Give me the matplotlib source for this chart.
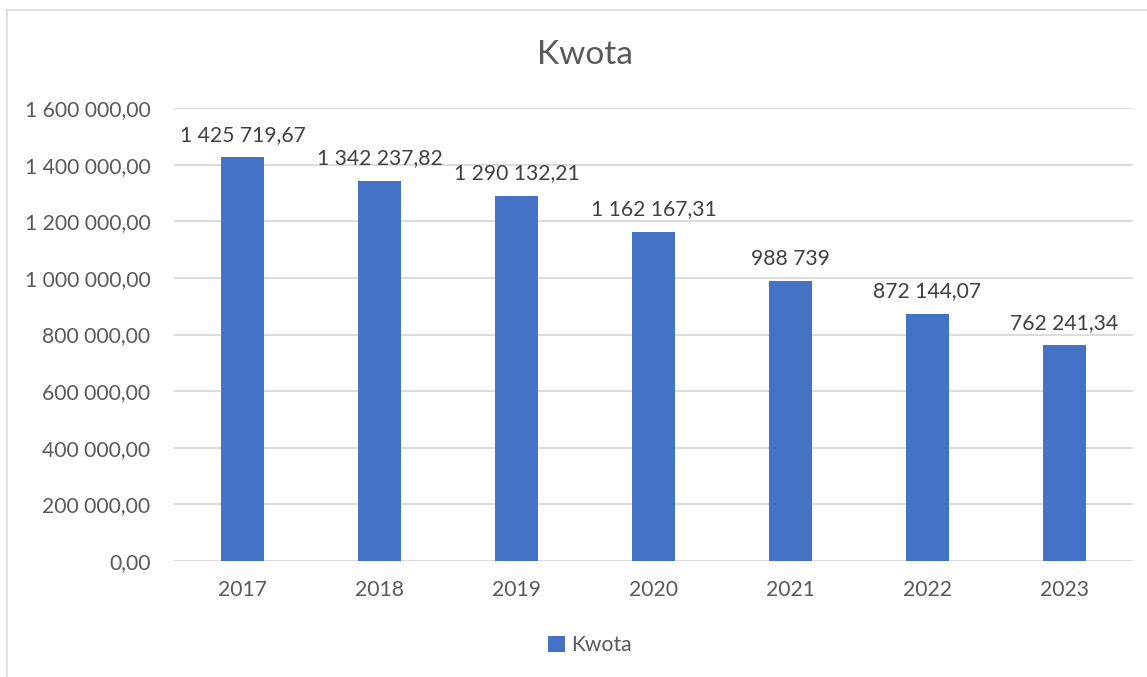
import matplotlib.pyplot as plt
from matplotlib.lines import Line2D
from matplotlib.ticker import FuncFormatter

years = ['2017', '2018', '2019', '2020', '2021', '2022', '2023']
kwota = [1425719.67, 1342237.82, 1290132.21, 1162167.31, 988739, 872144.07, 762241.34]
y_ticks = [0, 200000, 400000, 600000, 800000, 1000000, 1200000, 1400000, 1600000]

BLUE = '#4472c4'
TXT = '#595959'
GRID = '#d9d9d9'
FS = 15.2


def pl_format(v, decimals=2):
    """Polish number format: space thousands, comma decimals."""
    s = f'{v:,.{decimals}f}'
    return s.replace(',', ' ').replace('.', ',')


def label_text(v):
    if float(v).is_integer():
        return pl_format(v, 0)
    return pl_format(v, 2)


plt.rcParams['font.family'] = ['Lato', 'DejaVu Sans']

dpi = 100
fig = plt.figure(figsize=(1147 / dpi, 677 / dpi), dpi=dpi)
ax = fig.add_axes([174 / 1147, 1 - 561 / 677, (1133 - 174) / 1147, (561 - 108) / 677])

x = range(len(years))
bars = ax.bar(x, kwota, width=0.316, color=BLUE, zorder=3, label='Kwota')

for rect, v in zip(bars, kwota):
    ax.annotate(label_text(v), (rect.get_x() + rect.get_width() / 2, rect.get_height()),
                xytext=(0, 9), textcoords='offset points', ha='center', va='bottom',
                fontsize=FS, color='#404040')

ax.set_xlim(-0.5, len(years) - 0.5)
ax.set_ylim(0, 1600000)
ax.set_yticks(y_ticks)
ax.yaxis.set_major_formatter(FuncFormatter(lambda v, p: pl_format(v, 2)))
ax.set_xticks(list(x))
ax.set_xticklabels(years)
ax.tick_params(axis='both', length=0, labelsize=FS, labelcolor=TXT)
ax.tick_params(axis='y', pad=17)
ax.tick_params(axis='x', pad=14)
ax.grid(axis='y', color=GRID, linewidth=1.3, zorder=0)
for s in ax.spines.values():
    s.set_visible(False)

fig.text(585 / 1147, 1 - 55 / 677, 'Kwota', ha='center', va='center', fontsize=24, color=TXT)

fig.legend(handles=[bars], labels=['Kwota'], loc='center', bbox_to_anchor=(590 / 1147, 1 - 645 / 677),
           frameon=False, fontsize=FS, labelcolor=TXT, handlelength=0.8, handleheight=0.8,
           handletextpad=0.3)

# light chart border (left and top visible)
fig.add_artist(Line2D([7 / 1147, 7 / 1147], [0, 1 - 10 / 677], transform=fig.transFigure,
                      color=GRID, linewidth=1.2))
fig.add_artist(Line2D([7 / 1147, 1], [1 - 10 / 677, 1 - 10 / 677], transform=fig.transFigure,
                      color=GRID, linewidth=1.2))

fig.savefig('out.png', dpi=dpi)
